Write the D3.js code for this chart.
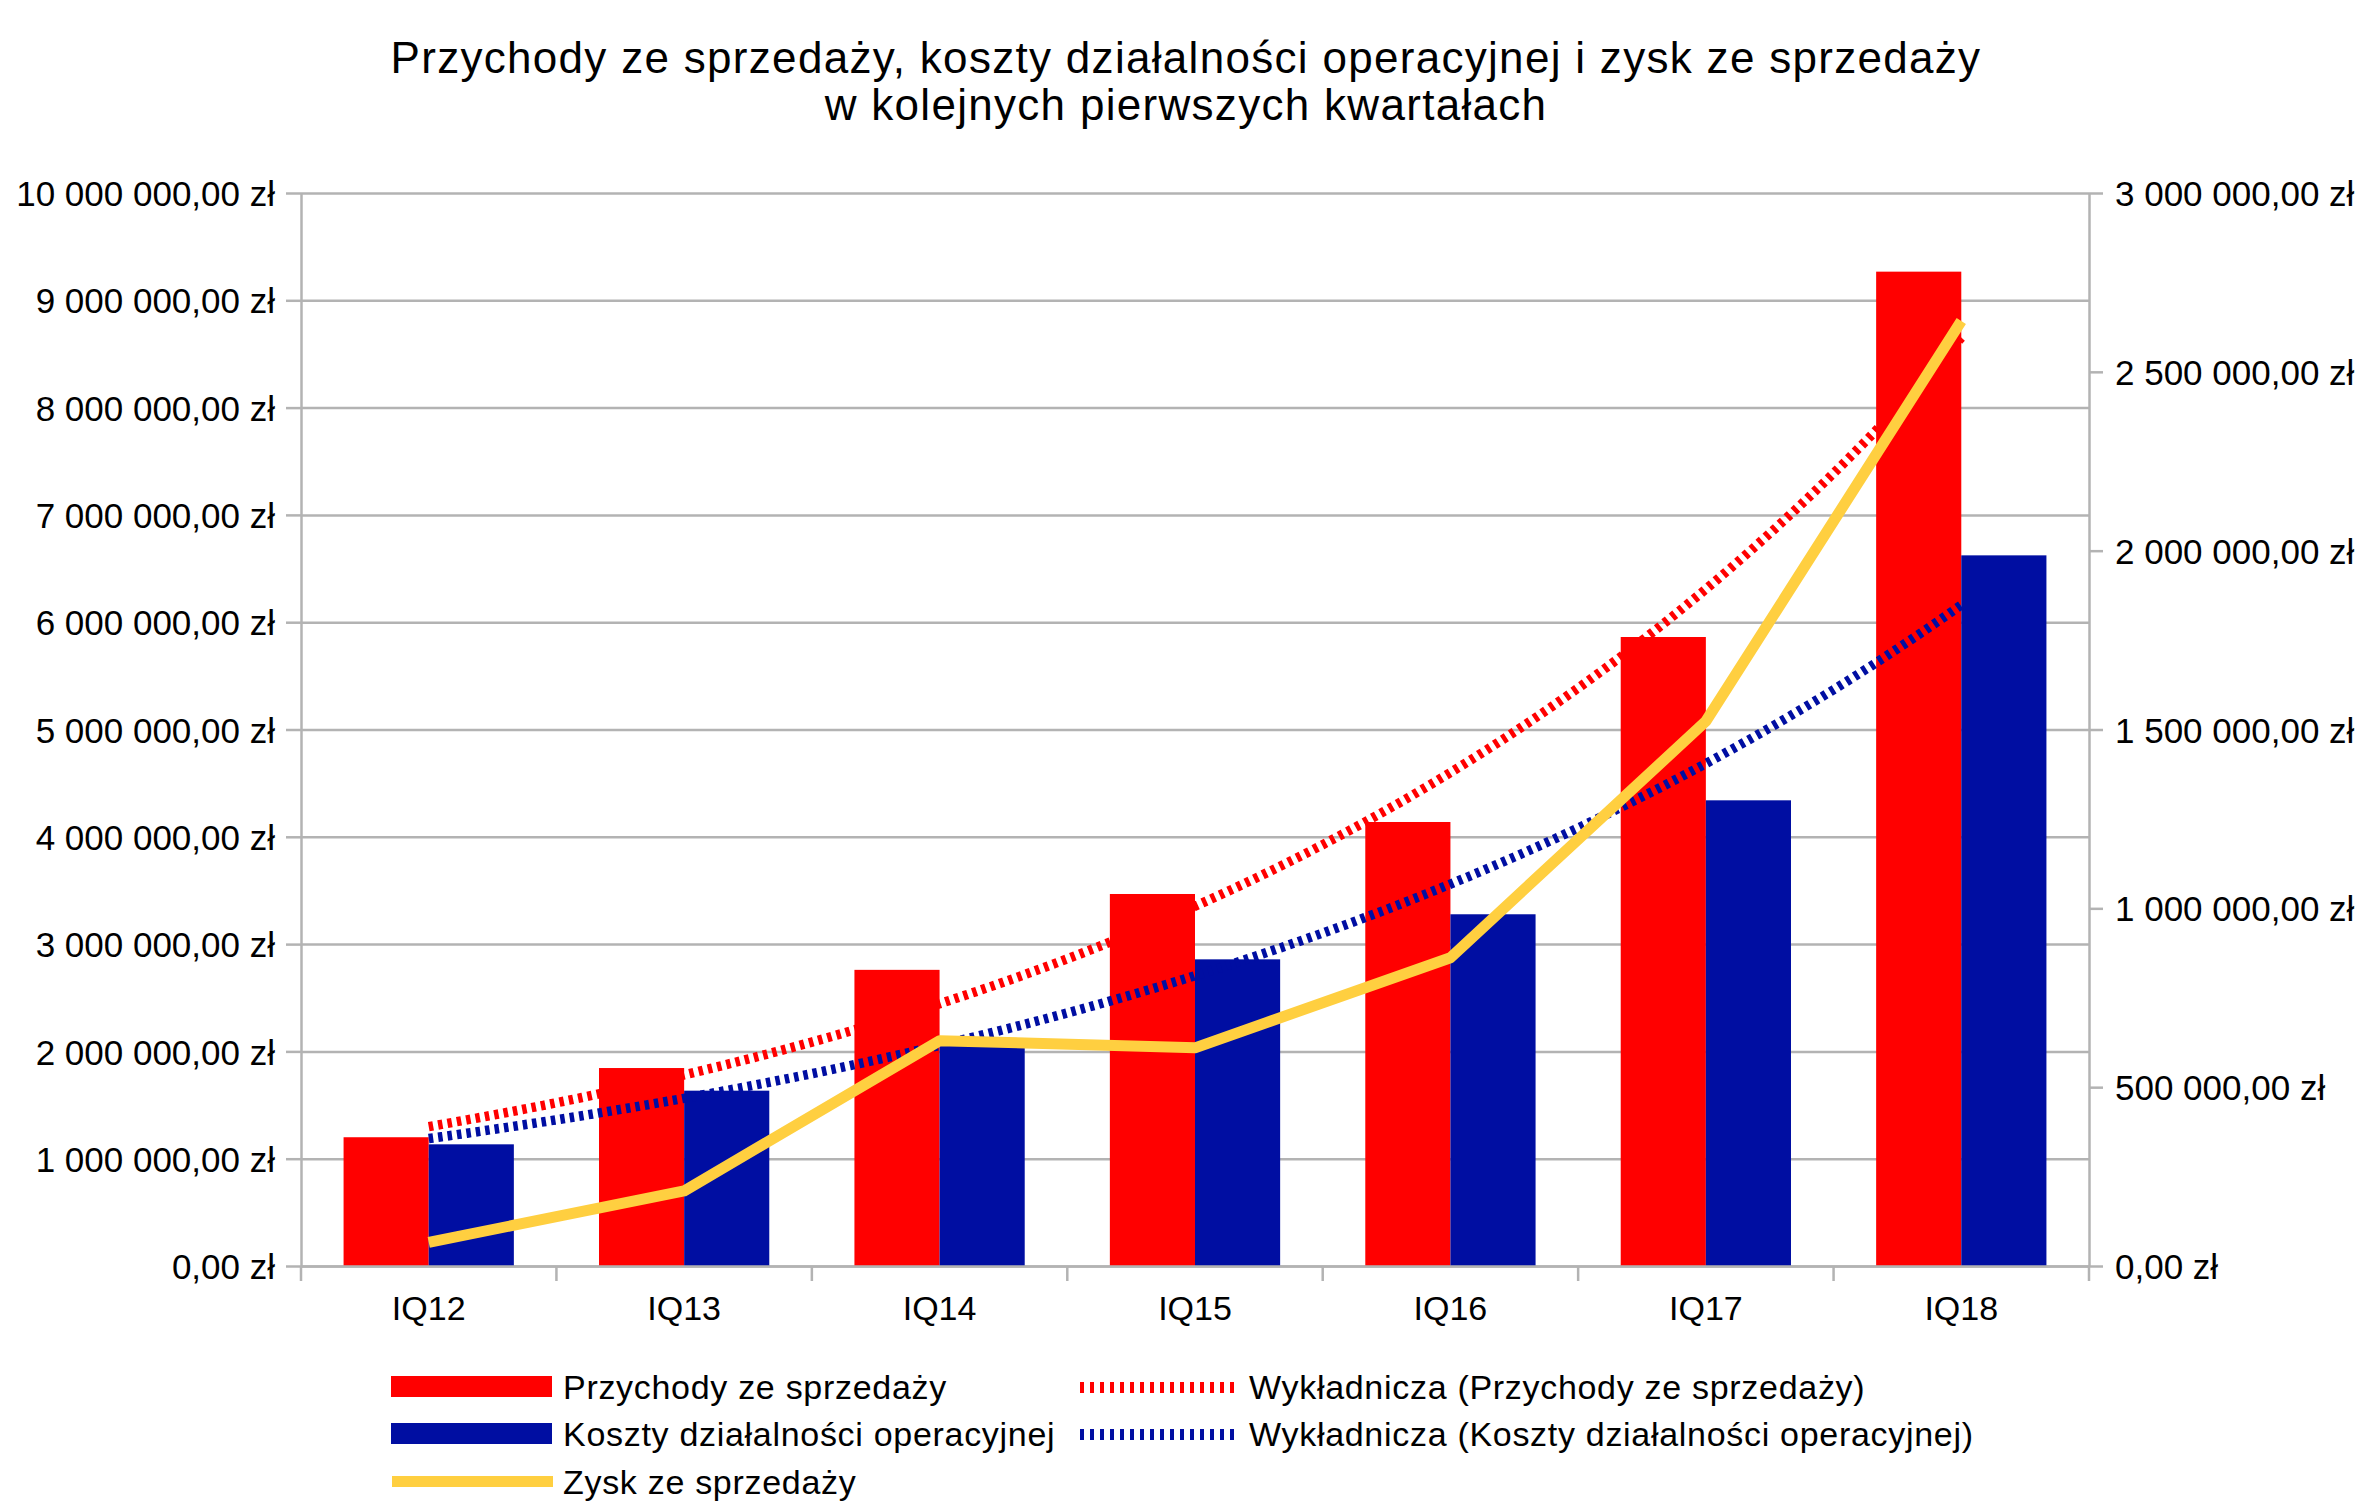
<!DOCTYPE html>
<html>
<head>
<meta charset="utf-8">
<script src="https://cdn.jsdelivr.net/npm/d3@7"></script>
<style>
  html, body { margin: 0; padding: 0; background: #ffffff; }
  svg { display: block; }
  text { font-family: "Liberation Sans", Arial, sans-serif; fill: #000; }
</style>
</head>
<body>
<svg id="chart" width="2380" height="1512"></svg>
<script>
// ---- data ----
const titleLines = [
  "Przychody ze sprzedaży, koszty działalności operacyjnej i zysk ze sprzedaży",
  "w kolejnych pierwszych kwartałach"
];
const categories = ["IQ12", "IQ13", "IQ14", "IQ15", "IQ16", "IQ17", "IQ18"];
const przychody = [1200000, 1845000, 2760000, 3467000, 4138000, 5862000, 9267000];
const koszty    = [1134000, 1634000, 2125000, 2858000, 3278000, 4340000, 6623000];
const zysk      = [66000, 210000, 630000, 610000, 862000, 1523000, 2642000];
const leftTicks  = [0, 1000000, 2000000, 3000000, 4000000, 5000000, 6000000, 7000000, 8000000, 9000000, 10000000];
const rightTicks = [0, 500000, 1000000, 1500000, 2000000, 2500000, 3000000];
const seriesNames = ["Przychody ze sprzedaży", "Koszty działalności operacyjnej", "Zysk ze sprzedaży"];
const trendNames = ["Wykładnicza (Przychody ze sprzedaży)", "Wykładnicza (Koszty działalności operacyjnej)"];

// ---- style ----
const RED = "#ff0000", BLUE = "#000ea2", GOLD = "#ffcf40", GRID = "#b3b3b3";
const plot = { left: 301, right: 2089, top: 193, bottom: 1266 };

const svg = d3.select("#chart");
const pl = d3.formatLocale({ decimal: ",", thousands: " ", grouping: [3], currency: ["", " zł"] });
const fmt = pl.format("$,.2f");

const x = d3.scaleBand().domain(categories).range([plot.left, plot.right]).padding(0);
const xs = d3.scaleBand().domain(["p", "k"]).range([0, x.bandwidth()]).paddingInner(0).paddingOuter(0.5);
const yL = d3.scaleLinear().domain([0, 10000000]).range([plot.bottom, plot.top]);
const yR = d3.scaleLinear().domain([0, 3000000]).range([plot.bottom, plot.top]);

// title
svg.append("g").selectAll("text").data(titleLines).join("text")
  .attr("x", 1186).attr("y", (d, i) => 73 + i * 46.5)
  .attr("text-anchor", "middle")
  .style("font-size", "44px").style("letter-spacing", "1.3px")
  .text(d => d);

// gridlines
const grid = svg.append("g").attr("transform", `translate(${plot.left},0)`)
  .call(d3.axisLeft(yL).tickValues(leftTicks).tickSize(-(plot.right - plot.left)).tickFormat(""));
grid.select(".domain").remove();
grid.selectAll("line").attr("stroke", GRID).attr("stroke-width", 2.5);

// bars
const groups = svg.append("g").selectAll("g").data(categories).join("g")
  .attr("transform", d => `translate(${x(d)},0)`);
groups.append("rect")
  .attr("x", xs("p")).attr("width", xs.bandwidth())
  .attr("y", (d, i) => yL(przychody[i])).attr("height", (d, i) => plot.bottom - yL(przychody[i]))
  .attr("fill", RED);
groups.append("rect")
  .attr("x", xs("k")).attr("width", xs.bandwidth())
  .attr("y", (d, i) => yL(koszty[i])).attr("height", (d, i) => plot.bottom - yL(koszty[i]))
  .attr("fill", BLUE);

// left axis
const la = svg.append("g").attr("transform", `translate(${plot.left},0)`)
  .call(d3.axisLeft(yL).tickValues(leftTicks).tickSize(15).tickSizeOuter(0).tickPadding(11).tickFormat(fmt));
la.select(".domain").attr("stroke", GRID).attr("stroke-width", 2.5);
la.selectAll("line").attr("stroke", GRID).attr("stroke-width", 2.5);
la.selectAll("text").style("font-size", "35px").attr("fill", "#000").attr("dy", "0.36em");
// right axis
const ra = svg.append("g").attr("transform", `translate(${plot.right},0)`)
  .call(d3.axisRight(yR).tickValues(rightTicks).tickSize(14).tickSizeOuter(0).tickPadding(12).tickFormat(fmt));
ra.select(".domain").attr("stroke", GRID).attr("stroke-width", 2.5);
ra.selectAll("line").attr("stroke", GRID).attr("stroke-width", 2.5);
ra.selectAll("text").style("font-size", "35px").attr("fill", "#000").attr("dy", "0.36em");
// bottom axis: labels at centers, ticks at boundaries
const ba = svg.append("g").attr("transform", `translate(0,${plot.bottom})`)
  .call(d3.axisBottom(x).tickSize(0).tickSizeOuter(0).tickPadding(30));
ba.select(".domain").attr("stroke", GRID).attr("stroke-width", 2.5);
ba.selectAll("text").style("font-size", "34px").attr("fill", "#000").attr("dy", "0.71em");
const bounds = categories.map(c => x(c)).concat([x.range()[1]]);
ba.append("g").selectAll("line").data(bounds).join("line")
  .attr("x1", d => d).attr("x2", d => d).attr("y1", 0).attr("y2", 15)
  .attr("stroke", GRID).attr("stroke-width", 2.5);

// exponential trendlines (least squares on ln values)
function expFit(vals) {
  const n = vals.length;
  const xsI = d3.range(1, n + 1);
  const ly = vals.map(Math.log);
  const mx = d3.mean(xsI), my = d3.mean(ly);
  const b = d3.sum(xsI, (xi, i) => (xi - mx) * (ly[i] - my)) / d3.sum(xsI, xi => (xi - mx) ** 2);
  const a = my - b * mx;
  return t => Math.exp(a + b * t);
}
const cx = i => x(categories[0]) + x.bandwidth() / 2 + (i - 1) * x.step();
const trendLine = d3.line().x(d => cx(d[0])).y(d => yL(d[1]));
[[przychody, RED], [koszty, BLUE]].forEach(([vals, col]) => {
  const f = expFit(vals);
  const pts = d3.range(1, vals.length + 0.001, 0.05).map(t => [t, f(t)]);
  svg.append("path").datum(pts).attr("d", trendLine)
    .attr("fill", "none").attr("stroke", col).attr("stroke-width", 9.5)
    .attr("stroke-dasharray", "4.5,5");
});

// profit line (right axis)
const line = d3.line().x((d, i) => x(categories[i]) + x.bandwidth() / 2).y(d => yR(d));
svg.append("path").datum(zysk).attr("d", line)
  .attr("fill", "none").attr("stroke", GOLD).attr("stroke-width", 11)
  .attr("stroke-linejoin", "round").attr("stroke-linecap", "butt");

// legend
const leg = svg.append("g");
const rowY = [1386.5, 1433.5, 1481.5];
const legendTextStyle = sel => sel.style("font-size", "34px").style("letter-spacing", "0.7px").attr("dy", "0.36em");
leg.append("rect").attr("x", 391).attr("y", rowY[0] - 10.5).attr("width", 161).attr("height", 21).attr("fill", RED);
leg.append("rect").attr("x", 391).attr("y", rowY[1] - 10.5).attr("width", 161).attr("height", 21).attr("fill", BLUE);
leg.append("line").attr("x1", 392).attr("x2", 553).attr("y1", rowY[2]).attr("y2", rowY[2])
  .attr("stroke", GOLD).attr("stroke-width", 11);
seriesNames.forEach((n, i) => {
  leg.append("text").attr("x", 563).attr("y", rowY[i]).text(n).call(legendTextStyle);
});
[[RED, 0], [BLUE, 1]].forEach(([col, i]) => {
  leg.append("line").attr("x1", 1080).attr("x2", 1238).attr("y1", rowY[i] + 1).attr("y2", rowY[i] + 1)
    .attr("stroke", col).attr("stroke-width", 11).attr("stroke-dasharray", "4,6");
  leg.append("text").attr("x", 1249).attr("y", rowY[i]).text(trendNames[i]).call(legendTextStyle);
});
</script>
</body>
</html>
